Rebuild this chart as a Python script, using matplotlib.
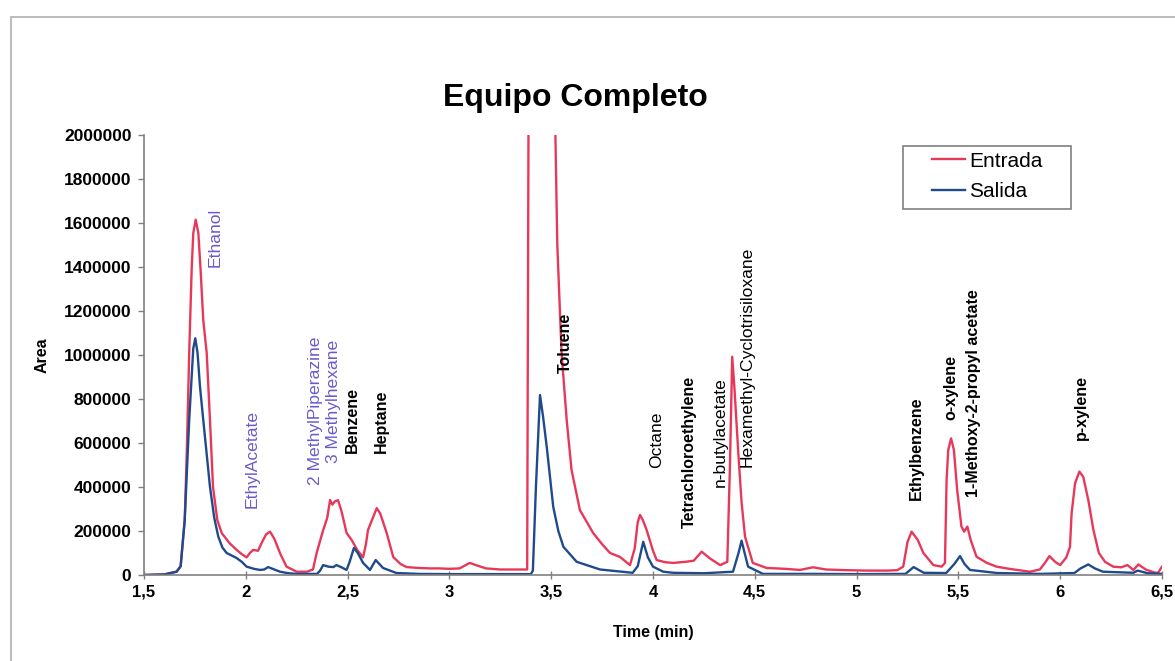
import numpy as np
import matplotlib
matplotlib.use('Agg')
import matplotlib.pyplot as plt
from matplotlib.patches import Rectangle

plt.rcParams['font.family'] = ['Liberation Sans', 'DejaVu Sans']

# Entrada (red trace) -- time (min), area
red_t = [1.50, 1.60, 1.66, 1.68, 1.70, 1.71, 1.722, 1.734, 1.742, 1.754, 1.767, 1.778,
         1.791, 1.808, 1.824, 1.839, 1.86, 1.882, 1.92, 1.955, 1.98, 2.004, 2.02, 2.036,
         2.06, 2.08, 2.10, 2.119, 2.14, 2.17, 2.20, 2.25, 2.30, 2.33, 2.348, 2.38,
         2.40, 2.414, 2.425, 2.438, 2.453, 2.47, 2.495, 2.52, 2.55, 2.576, 2.59, 2.60,
         2.62, 2.643, 2.66, 2.692, 2.724, 2.76, 2.79, 2.85, 2.905, 2.95, 3.00, 3.05,
         3.08, 3.10, 3.13, 3.18, 3.25, 3.32, 3.382, 3.39, 3.45, 3.515, 3.53, 3.551,
         3.576, 3.60, 3.641, 3.706, 3.75, 3.789, 3.838, 3.887, 3.91, 3.925, 3.936, 3.95,
         3.969, 4.00, 4.018, 4.06, 4.10, 4.16, 4.20, 4.239, 4.28, 4.33, 4.365, 4.378,
         4.389, 4.40, 4.419, 4.435, 4.452, 4.49, 4.558, 4.65, 4.722, 4.786, 4.85, 4.95,
         5.05, 5.15, 5.20, 5.229, 5.25, 5.27, 5.30, 5.328, 5.377, 5.418, 5.434, 5.442,
         5.45, 5.464, 5.478, 5.494, 5.515, 5.528, 5.544, 5.56, 5.589, 5.64, 5.687, 5.75,
         5.851, 5.90, 5.925, 5.947, 5.975, 6.00, 6.03, 6.048, 6.056, 6.073, 6.094, 6.113,
         6.138, 6.163, 6.19, 6.22, 6.26, 6.30, 6.33, 6.36, 6.384, 6.42, 6.46, 6.48,
         6.50]
red_area = [0, 2000, 15000, 40000, 250000, 553000, 1009000, 1386000, 1554000, 1615000, 1554000, 1386000,
            1159000, 1009000, 705000, 400000, 250000, 190000, 145000, 114000, 95000, 80000, 100000, 114000,
            110000, 150000, 185000, 197000, 165000, 95000, 38000, 15000, 15000, 25000, 100000, 204000,
            260000, 341000, 320000, 335000, 340000, 290000, 191000, 159000, 110000, 80000, 140000, 204000,
            250000, 304000, 280000, 191000, 82000, 50000, 36000, 32000, 30000, 30000, 28000, 30000,
            45000, 55000, 45000, 30000, 25000, 25000, 25000, 2600000, 6000000, 2300000, 1500000, 1009000,
            705000, 477000, 295000, 191000, 140000, 100000, 82000, 45000, 120000, 240000, 273000, 250000,
            204000, 110000, 68000, 58000, 55000, 60000, 65000, 106000, 75000, 45000, 60000, 500000,
            992000, 850000, 554000, 330000, 174000, 55000, 32000, 28000, 23000, 35000, 25000, 22000,
            20000, 20000, 22000, 38000, 150000, 197000, 160000, 100000, 45000, 38000, 55000, 432000,
            568000, 621000, 568000, 386000, 220000, 197000, 220000, 160000, 83000, 55000, 38000, 28000,
            15000, 25000, 55000, 86000, 60000, 45000, 80000, 128000, 280000, 417000, 470000, 447000,
            341000, 205000, 100000, 60000, 38000, 35000, 45000, 23000, 48000, 25000, 12000, 9000,
            38000]

# Salida (blue trace)
blue_t = [1.50, 1.60, 1.66, 1.68, 1.70, 1.722, 1.734, 1.742, 1.752, 1.763, 1.775, 1.791,
          1.824, 1.845, 1.865, 1.885, 1.906, 1.955, 1.98, 2.004, 2.04, 2.07, 2.09, 2.11,
          2.14, 2.168, 2.21, 2.25, 2.35, 2.365, 2.38, 2.405, 2.43, 2.445, 2.47, 2.495,
          2.51, 2.531, 2.55, 2.576, 2.61, 2.638, 2.674, 2.74, 2.85, 3.00, 3.20, 3.40,
          3.41, 3.425, 3.445, 3.46, 3.478, 3.51, 3.535, 3.56, 3.625, 3.74, 3.90, 3.925,
          3.952, 3.975, 4.00, 4.05, 4.10, 4.25, 4.393, 4.42, 4.435, 4.45, 4.467, 4.54,
          4.80, 5.00, 5.24, 5.28, 5.33, 5.44, 5.48, 5.508, 5.53, 5.557, 5.69, 5.90,
          6.07, 6.10, 6.138, 6.17, 6.21, 6.36, 6.38, 6.43, 6.50]
blue_area = [0, 3000, 15000, 40000, 250000, 705000, 900000, 1030000, 1076000, 1009000, 856000, 705000,
             401000, 260000, 174000, 125000, 100000, 77000, 60000, 38000, 28000, 23000, 25000, 36000,
             25000, 15000, 8000, 5000, 5000, 20000, 45000, 38000, 36000, 45000, 35000, 23000,
             60000, 123000, 100000, 55000, 23000, 68000, 32000, 9000, 5000, 4000, 4000, 4000,
             20000, 400000, 818000, 720000, 583000, 310000, 200000, 128000, 60000, 25000, 10000, 40000,
             151000, 80000, 38000, 15000, 10000, 8000, 15000, 100000, 156000, 100000, 38000, 5000,
             5000, 4000, 5000, 36000, 10000, 9000, 50000, 86000, 50000, 23000, 9000, 5000,
             9000, 30000, 48000, 30000, 15000, 10000, 20000, 8000, 5000]

# peak labels
peak_names = ['Ethanol', 'EthylAcetate', '2 MethylPiperazine', '3 Methylhexane', 'Benzene',
              'Heptane', 'Toluene', 'Octane', 'Tetrachloroethylene', 'n-butylacetate',
              'Hexamethyl-Cyclotrisiloxane', 'Ethylbenzene', 'o-xylene',
              '1-Methoxy-2-propyl acetate', 'p-xylene']
# label anchor (bottom of rotated text), colour, weight
label_pos = [(1.849, 1401000), (2.029, 303000), (2.34, 409000), (2.43, 508000), (2.523, 553000),
             (2.667, 553000), (3.571, 917000), (4.018, 485000), (4.18, 212000), (4.329, 401000),
             (4.46, 492000), (5.295, 341000), (5.464, 705000), (5.575, 356000), (6.102, 614000)]
purple = '#6a5cc8'
label_col = [purple] * 4 + ['black'] * 11
label_bold = [False] * 4 + [True, True, True, False, True, False, False, True, True, True, True]

fig = plt.figure(figsize=(11.75, 6.61), dpi=100)
ax = fig.add_axes([144 / 1175, 1 - 575 / 661, 1018 / 1175, 440 / 661])

ax.plot(red_t, red_area, color='#e8385a', lw=1.7, label='Entrada')
ax.plot(blue_t, blue_area, color='#1f4a8c', lw=1.7, label='Salida')

ax.set_xlim(1.5, 6.5)
ax.set_ylim(0, 2000000)
xt = np.arange(1.5, 6.51, 0.5)
ax.set_xticks(xt)
ax.set_xticklabels([('%g' % v).replace('.', ',') for v in xt], fontweight='bold', fontsize=12)
yt = np.arange(0, 2000001, 200000)
ax.set_yticks(yt)
ax.set_yticklabels(['%d' % v for v in yt], fontweight='bold', fontsize=12.5)
for s in ['top', 'right']:
    ax.spines[s].set_visible(False)
for s in ['left', 'bottom']:
    ax.spines[s].set_color('#808080')
    ax.spines[s].set_linewidth(1.2)
ax.tick_params(axis='both', colors='#808080', labelcolor='black', length=4, width=1)
ax.tick_params(axis='y', pad=5)
ax.tick_params(axis='x', direction='inout', length=6, pad=4)

for name, (px, py), c, b in zip(peak_names, label_pos, label_col, label_bold):
    ax.text(px, py, name, rotation=90, ha='center', va='bottom', color=c,
            fontsize=11.5 if b else 12.6, fontweight='bold' if b else 'normal')

leg = ax.legend(loc='upper left', bbox_to_anchor=(0.774, 0.962), borderaxespad=0,
                fontsize=15, frameon=False, handlelength=1.6, handletextpad=0.2,
                borderpad=0, labelspacing=0.55)
ax.add_patch(Rectangle((0.7456, 0.832), 0.165, 0.143, transform=ax.transAxes,
                       fill=False, edgecolor='#808080', lw=1.2, clip_on=False))

fig.text(575 / 1175, 1 - 98 / 661, 'Equipo Completo', ha='center', va='center',
         fontsize=23, fontweight='bold')
fig.text(653 / 1175, 1 - 632 / 661, 'Time (min)', ha='center', va='center',
         fontsize=11.5, fontweight='bold')
fig.text(42 / 1175, 1 - 355 / 661, 'Area', ha='center', va='center', rotation=90,
         fontsize=11.5, fontweight='bold')

# light frame around the chart area
top = 1 - 17 / 661
fig.patches.append(Rectangle((11 / 1175, -0.2), 1.2, top + 0.2,
                             transform=fig.transFigure, fill=False,
                             edgecolor='#b0b0b0', lw=1.2))

fig.savefig('out.png', dpi=100)
